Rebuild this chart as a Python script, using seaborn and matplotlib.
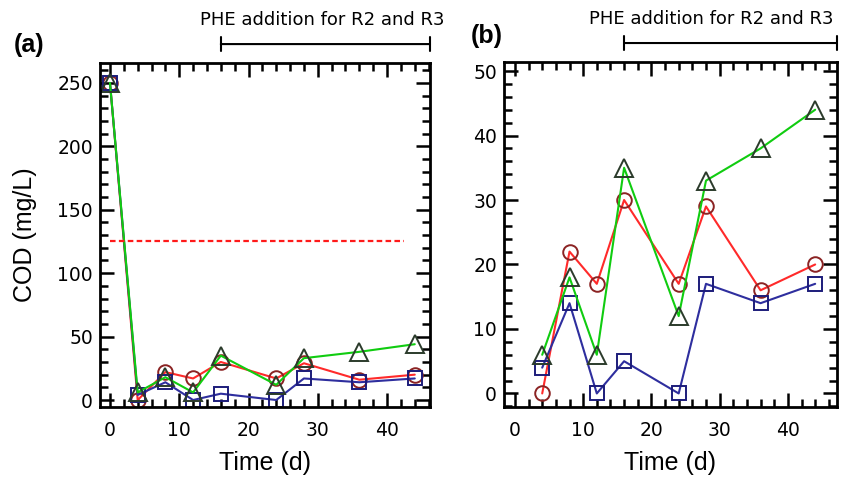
import numpy as np
import pandas as pd
import matplotlib
matplotlib.use("Agg")
import matplotlib.pyplot as plt
from matplotlib.ticker import MultipleLocator
import seaborn as sns

# sampling days and COD values (mg/L)
days = [0, 4, 8, 12, 16, 24, 28, 36, 44]
cod_r1 = [250, 0, 22, 17, 30, 17, 29, 16, 20]   # circles
cod_r2 = [250, 4, 14, 0, 5, 0, 17, 14, 17]      # squares
cod_r3 = [250, 6, 18, 6, 35, 12, 33, 38, 44]    # triangles
limit_cod = 125
limit_days = [0, 42.5]
phe_start = 16

series = [
    ("R1", cod_r1, "o", "#ff2a2a", "#8b2323", 10.5),
    ("R2", cod_r2, "s", "#2e2e9e", "#1c1c7a", 10),
    ("R3", cod_r3, "^", "#10cc10", "#2b3b2b", 13),
]

sns.set_style("ticks")
plt.rcParams["font.family"] = ["DejaVu Sans"]
plt.rcParams["text.color"] = "black"
plt.rcParams["axes.labelcolor"] = "black"

W, H = 849, 478
fig = plt.figure(figsize=(W / 100, H / 100), dpi=100)


def px_axes(l, t, r, b):
    return fig.add_axes([l / W, 1 - b / H, (r - l) / W, (b - t) / H])


def style_axes(ax, xlim, ylim, ymaj, ymin):
    ax.set_xlim(*xlim)
    ax.set_ylim(*ylim)
    ax.xaxis.set_major_locator(MultipleLocator(10))
    ax.xaxis.set_minor_locator(MultipleLocator(2))
    ax.yaxis.set_major_locator(MultipleLocator(ymaj))
    ax.yaxis.set_minor_locator(MultipleLocator(ymin))
    ax.tick_params(which="both", direction="in", top=True, right=True,
                   width=1.8, colors="black", labelcolor="black")
    ax.tick_params(which="major", length=10, labelsize=13.5, pad=5)
    ax.tick_params(axis="x", which="major", pad=10)
    ax.tick_params(which="minor", length=5.5)
    for s in ax.spines.values():
        s.set_linewidth(2)
        s.set_color("black")
        s.set_visible(True)
    ax.set_xlabel("Time (d)", fontsize=18, family="Liberation Sans", labelpad=8)
    ax.set_ylabel("")


def draw_series(ax, start):
    for name, vals, mk, lc, ec, ms in series:
        df = pd.DataFrame({"day": days[start:], "cod": vals[start:]})
        sns.lineplot(data=df, x="day", y="cod", ax=ax, color=lc, lw=1.5,
                     marker=mk, markersize=ms,
                     markerfacecolor="none", markeredgecolor=ec,
                     markeredgewidth=1.4, legend=False)


def phe_bar(ax, xmax, xtext):
    ax.annotate("", xy=(phe_start, 1.055), xytext=(xmax, 1.055),
                xycoords=("data", "axes fraction"),
                textcoords=("data", "axes fraction"),
                arrowprops=dict(arrowstyle="|-|", lw=1.5, color="black",
                                mutation_scale=5, shrinkA=0, shrinkB=0),
                annotation_clip=False)
    ax.text(xtext, 1.125, "PHE addition for R2 and R3", fontsize=13,
            ha="center", va="center", transform=ax.get_xaxis_transform())


# panel (a)
ax1 = px_axes(100, 63, 430, 407)
draw_series(ax1, 0)
ax1.hlines(limit_cod, *limit_days, colors="#ff1a1a", linestyles=(0, (2.5, 1.5)), lw=1.6)
style_axes(ax1, (-1.44, 46.2), (-5.5, 265.7), 50, 10)
phe_bar(ax1, 46.2, 30.6)

# panel (b)
ax2 = px_axes(504, 62, 837, 407)
draw_series(ax2, 1)
style_axes(ax2, (-1.6, 47.2), (-2.1, 51.4), 10, 2)
phe_bar(ax2, 47.2, 28.7)

fig.text(25 / W, 1 - 235 / H, "COD (mg/L)", rotation=90, fontsize=18,
         family="Liberation Sans", ha="center", va="center")
fig.text(14 / W, 1 - 45 / H, "(a)", fontsize=18, fontweight="bold",
         family="Liberation Sans", ha="left", va="center")
fig.text(471 / W, 1 - 36 / H, "(b)", fontsize=18, fontweight="bold",
         family="Liberation Sans", ha="left", va="center")

fig.savefig("out.png", dpi=100)
